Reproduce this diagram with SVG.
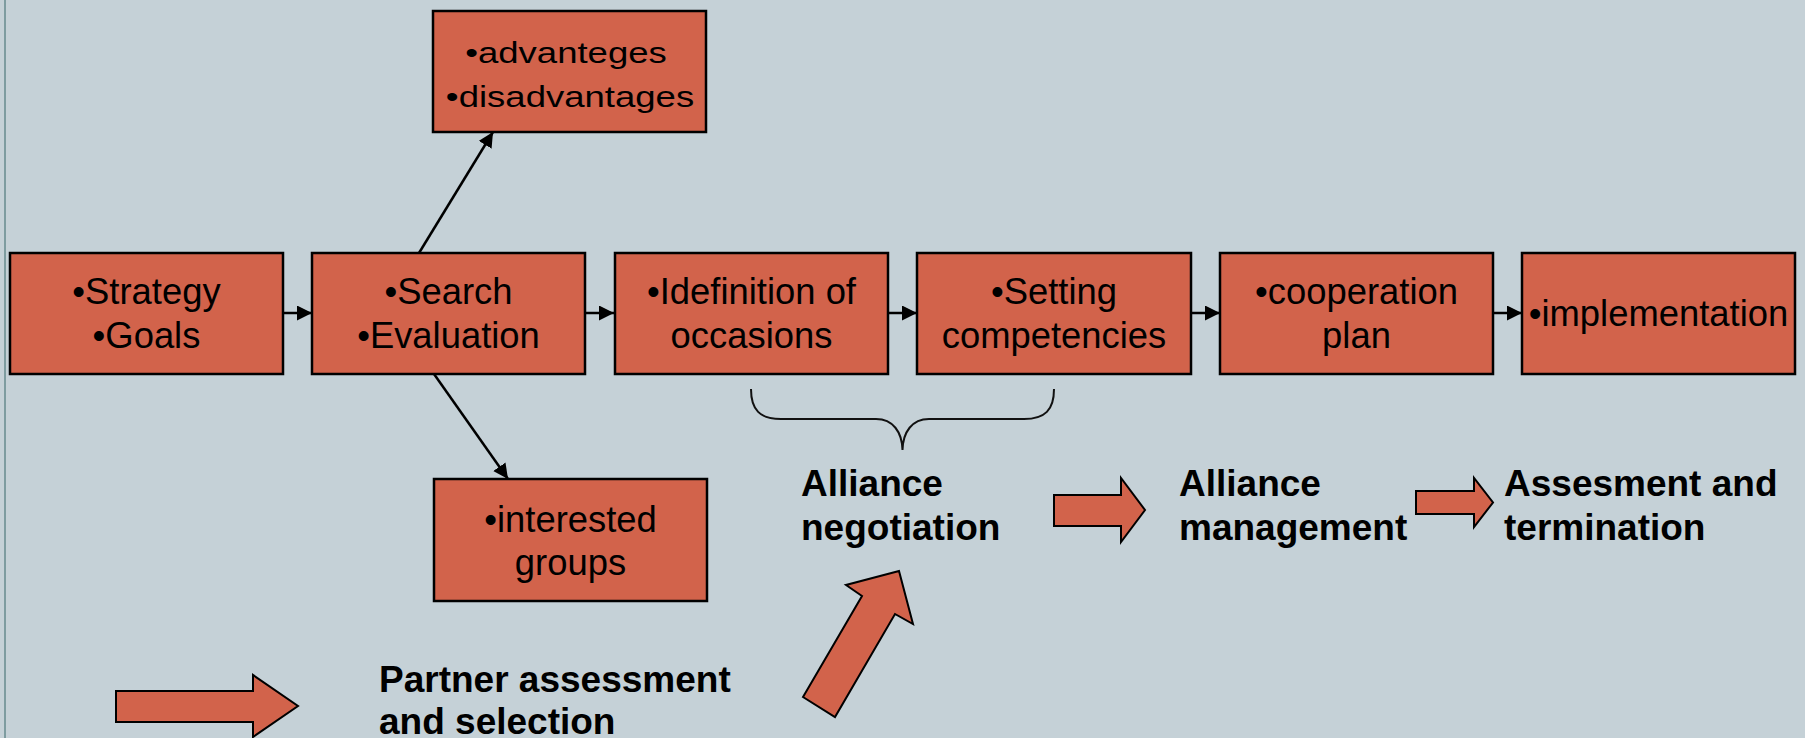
<svg xmlns="http://www.w3.org/2000/svg" width="1805" height="738" viewBox="0 0 1805 738">
<style>
.box{fill:#D2634B;stroke:#000;stroke-width:2.5}
.bt{font-family:"Liberation Sans",Arial,sans-serif;font-size:36.4px;fill:#000;text-anchor:middle}
.at{font-family:"Liberation Sans",Arial,sans-serif;font-size:29px;fill:#000;text-anchor:middle}
.lb{font-family:"Liberation Sans",Arial,sans-serif;font-size:37px;font-weight:bold;fill:#000}
.con{stroke:#000;stroke-width:2.5;fill:none}
.blk{fill:#D2634B;stroke:#000;stroke-width:2;stroke-linejoin:miter}
</style>
<defs>
<marker id="ah" markerUnits="userSpaceOnUse" markerWidth="16" markerHeight="16" viewBox="0 0 16 16" refX="15" refY="7.5" orient="auto">
<path d="M0,0 L15,7.5 L0,15 z" fill="#000"/>
</marker>
</defs>
<rect x="0" y="0" width="1805" height="738" fill="#C5D1D7"/>
<rect x="4" y="0" width="2" height="738" fill="#7E9CA0"/>

<g id="connectors">
<line class="con" x1="283" y1="313" x2="312" y2="313" marker-end="url(#ah)"/>
<line class="con" x1="585" y1="313" x2="614" y2="313" marker-end="url(#ah)"/>
<line class="con" x1="888" y1="313" x2="917" y2="313" marker-end="url(#ah)"/>
<line class="con" x1="1191" y1="313" x2="1220" y2="313" marker-end="url(#ah)"/>
<line class="con" x1="1493" y1="313" x2="1522" y2="313" marker-end="url(#ah)"/>
<line class="con" x1="419" y1="253" x2="493" y2="132" marker-end="url(#ah)"/>
<line class="con" x1="434" y1="374" x2="508" y2="479" marker-end="url(#ah)"/>
<path d="M751,389 C751,410 760,419 781,419 L876,419 C893,419 902,432 902.5,450 C903,432 912,419 929,419 L1024,419 C1045,419 1054,410 1054,389" fill="none" stroke="#111" stroke-width="2"/>
</g>

<g id="strategy">
<rect class="box" x="10" y="253" width="273" height="121"/>
<text class="bt" x="146.5" y="304">•Strategy</text>
<text class="bt" x="146.5" y="348">•Goals</text>
</g>
<g id="search">
<rect class="box" x="312" y="253" width="273" height="121"/>
<text class="bt" x="448.5" y="304">•Search</text>
<text class="bt" x="448.5" y="348">•Evaluation</text>
</g>
<g id="advantages">
<rect class="box" x="433" y="11" width="273" height="121"/>
<text class="at" transform="translate(566 62.7) scale(1.26 1)">•advanteges</text>
<text class="at" transform="translate(570 107.3) scale(1.26 1)">•disadvantages</text>
</g>
<g id="interested">
<rect class="box" x="434" y="479" width="273" height="122"/>
<text class="bt" x="570.5" y="531.7">•interested</text>
<text class="bt" x="570.5" y="575">groups</text>
</g>
<g id="definition">
<rect class="box" x="615" y="253" width="273" height="121"/>
<text class="bt" x="751.5" y="303.5">•Idefinition of</text>
<text class="bt" x="751.5" y="348">occasions</text>
</g>
<g id="setting">
<rect class="box" x="917" y="253" width="274" height="121"/>
<text class="bt" x="1054" y="303.5">•Setting</text>
<text class="bt" x="1054" y="348">competencies</text>
</g>
<g id="cooperation">
<rect class="box" x="1220" y="253" width="273" height="121"/>
<text class="bt" x="1356.5" y="303.5">•cooperation</text>
<text class="bt" x="1356.5" y="348">plan</text>
</g>
<g id="implementation">
<rect class="box" x="1522" y="253" width="273" height="121"/>
<text class="bt" x="1658.5" y="326">•implementation</text>
</g>

<g id="arrows">
<polygon class="blk" points="116,691 253,691 253,675 298,706 253,737 253,722 116,722"/>
<polygon class="blk" points="1054,495 1121,495 1121,478 1145,510 1121,542 1121,526 1054,526"/>
<polygon class="blk" points="1416,491 1474,491 1474,478 1493,502.5 1474,527 1474,514 1416,514"/>
<polygon class="blk" points="803,697 862,596 846,585 899,571 913,624 895,614 835,717"/>
</g>

<g id="labels">
<text class="lb" x="801" y="496">Alliance</text>
<text class="lb" x="801" y="540">negotiation</text>
<text class="lb" x="1179" y="496">Alliance</text>
<text class="lb" x="1179" y="540">management</text>
<text class="lb" x="1504" y="496">Assesment and</text>
<text class="lb" x="1504" y="540">termination</text>
<text class="lb" x="379" y="692">Partner assessment</text>
<text class="lb" x="379" y="734">and selection</text>
</g>
</svg>
